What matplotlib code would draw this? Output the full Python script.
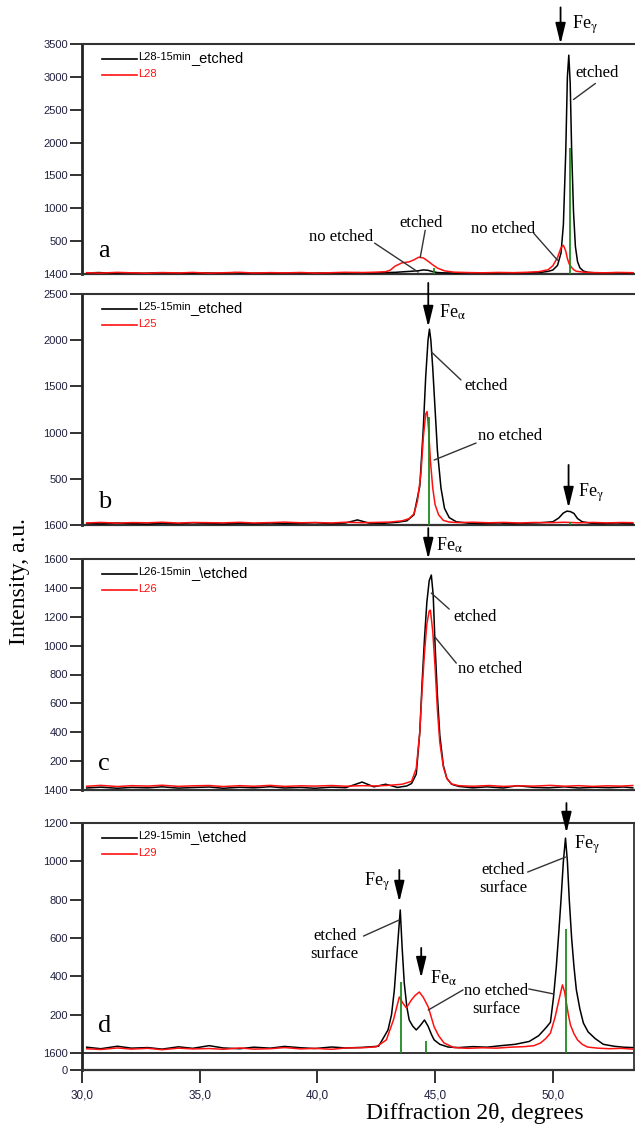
import matplotlib
matplotlib.use("Agg")
import matplotlib.pyplot as plt

plt.rcParams["mathtext.fontset"] = "stix"

SERIF = "Liberation Serif"
SANS = "Liberation Sans"
TICK_COLOR = "#202040"
RED = "#ff1010"
GREEN = "#1f8a1f"

# ---------------- data (2theta, intensity a.u.) ----------------
# panel a : L28
a_x_etch = [30.2, 30.7, 31.3, 31.9, 32.6, 33.2, 33.9, 34.5, 35.2, 35.8, 36.5, 37.1, 37.8, 38.4, 39.1,
            39.7, 40.4, 41.0, 41.7, 42.3, 42.9, 43.3, 43.7, 44.0, 44.3, 44.5, 44.7, 44.9, 45.1, 45.4,
            45.9, 46.5, 47.1, 47.8, 48.4, 49.0, 49.5, 49.8, 50.0, 50.2, 50.35, 50.45, 50.55, 50.62,
            50.68, 50.74, 50.8, 50.88, 50.96, 51.05, 51.15, 51.3, 51.5, 51.8, 52.2, 52.7, 53.1, 53.4]
a_y_etch = [15, 22, 12, 18, 10, 20, 14, 9, 17, 12, 21, 11, 16, 13, 19, 12, 18, 14, 20, 16, 22, 25, 35,
            42, 50, 62, 56, 36, 22, 17, 14, 19, 12, 18, 15, 20, 25, 40, 60, 130, 320, 750, 1850, 3000,
            3330, 2900, 1900, 950, 420, 190, 95, 45, 25, 18, 15, 20, 13, 16]
a_x_raw = [30.2, 30.8, 31.5, 32.1, 32.8, 33.4, 34.1, 34.7, 35.4, 36.0, 36.7, 37.3, 38.0, 38.6, 39.3,
           39.9, 40.6, 41.2, 41.9, 42.5, 42.9, 43.1, 43.3, 43.6, 43.9, 44.1, 44.3, 44.5, 44.7, 44.9,
           45.1, 45.4, 45.8, 46.4, 47.0, 47.7, 48.3, 48.9, 49.4, 49.8, 50.0, 50.2, 50.35, 50.45, 50.55,
           50.62, 50.7, 50.8, 50.9, 51.0, 51.3, 51.7, 52.2, 52.8, 53.4]
a_y_raw = [20, 14, 25, 18, 12, 22, 16, 24, 13, 19, 26, 15, 21, 17, 23, 14, 20, 26, 22, 28, 35, 60, 120,
           170, 185, 215, 255, 245, 195, 140, 90, 48, 28, 22, 18, 24, 20, 26, 35, 65, 125, 250, 400,
           437, 350, 235, 150, 100, 62, 42, 28, 22, 18, 24, 20]
a_ref_x = [44.95, 50.75]
a_ref_y = [90, 1920]

# panel b : L25
b_x_etch = [30.2, 30.8, 31.5, 32.1, 32.8, 33.4, 34.1, 34.7, 35.4, 36.0, 36.7, 37.3, 38.0, 38.6, 39.3,
            39.9, 40.6, 41.2, 41.7, 42.2, 42.8, 43.4, 43.8, 44.1, 44.35, 44.5, 44.6, 44.7, 44.76, 44.82,
            44.9, 45.0, 45.1, 45.25, 45.4, 45.6, 45.9, 46.4, 47.0, 47.7, 48.3, 48.9, 49.5, 50.0, 50.25,
            50.45, 50.6, 50.75, 50.9, 51.05, 51.25, 51.6, 52.1, 52.7, 53.4]
b_y_etch = [18, 12, 22, 15, 10, 20, 14, 24, 16, 11, 19, 13, 21, 15, 18, 25, 14, 22, 55, 20, 18, 30, 45,
            110, 420, 1050, 1600, 2000, 2120, 2000, 1700, 1250, 800, 400, 180, 80, 35, 20, 15, 22, 14,
            19, 25, 35, 75, 130, 150, 145, 125, 70, 35, 20, 15, 22, 14]
b_x_raw = [30.2, 30.8, 31.5, 32.1, 32.8, 33.4, 34.1, 34.7, 35.4, 36.0, 36.7, 37.3, 38.0, 38.6, 39.3,
           39.9, 40.6, 41.2, 41.9, 42.5, 43.1, 43.6, 43.9, 44.1, 44.25, 44.4, 44.5, 44.6, 44.66, 44.72,
           44.8, 44.9, 45.0, 45.15, 45.35, 45.6, 46.0, 46.6, 47.3, 47.9, 48.6, 49.2, 49.9, 50.5, 51.1,
           51.7, 52.3, 52.9, 53.4]
b_y_raw = [22, 28, 20, 26, 24, 30, 21, 27, 25, 23, 29, 22, 26, 31, 24, 27, 22, 30, 25, 28, 32, 45, 70,
           120, 260, 560, 950, 1200, 1228, 1050, 700, 400, 220, 110, 50, 32, 26, 30, 24, 28, 22, 27,
           25, 30, 24, 28, 23, 27, 25]
b_ref_x = [44.75, 50.75]
b_ref_y = [1174, 30]

# panel c : L26
c_x_etch = [30.2, 30.8, 31.5, 32.1, 32.8, 33.4, 34.1, 34.7, 35.4, 36.0, 36.7, 37.3, 38.0, 38.6, 39.3,
            39.9, 40.6, 41.2, 41.9, 42.4, 42.9, 43.4, 43.8, 44.0, 44.2, 44.35, 44.45, 44.55, 44.65,
            44.75, 44.84, 44.92, 45.0, 45.1, 45.2, 45.35, 45.5, 45.7, 46.0, 46.6, 47.2, 47.9, 48.5,
            49.2, 49.8, 50.5, 51.1, 51.8, 52.4, 53.0, 53.4]
c_y_etch = [14, 20, 12, 18, 15, 22, 13, 17, 21, 12, 19, 15, 23, 14, 18, 12, 20, 16, 55, 22, 40, 18, 28,
            45, 110, 400, 750, 1050, 1300, 1450, 1489, 1350, 1000, 650, 380, 170, 80, 40, 25, 15, 22,
            14, 30, 18, 15, 22, 14, 19, 16, 21, 15]
c_x_raw = [30.2, 30.8, 31.5, 32.1, 32.8, 33.4, 34.1, 34.7, 35.4, 36.0, 36.7, 37.3, 38.0, 38.6, 39.3,
           39.9, 40.6, 41.2, 41.9, 42.5, 43.1, 43.6, 44.0, 44.2, 44.35, 44.45, 44.55, 44.65, 44.75,
           44.8, 44.9, 45.0, 45.1, 45.2, 45.35, 45.5, 45.7, 46.0, 46.6, 47.3, 47.9, 48.6, 49.2, 49.9,
           50.5, 51.1, 51.7, 52.3, 52.9, 53.4]
c_y_raw = [26, 32, 24, 30, 27, 33, 25, 29, 31, 24, 30, 26, 32, 25, 29, 27, 31, 26, 30, 28, 33, 40, 60,
           150, 400, 700, 950, 1150, 1240, 1246, 1100, 850, 550, 330, 160, 80, 42, 30, 26, 31, 25, 29,
           27, 32, 26, 30, 25, 29, 27, 31]
c_ref_x = []
c_ref_y = []

# panel d : L29
d_x_etch = [30.2, 30.8, 31.5, 32.1, 32.8, 33.4, 34.1, 34.7, 35.4, 36.0, 36.7, 37.3, 38.0, 38.6, 39.3,
            39.9, 40.6, 41.2, 41.9, 42.6, 43.0, 43.15, 43.27, 43.4, 43.52, 43.6, 43.69, 43.8, 43.9,
            44.05, 44.2, 44.35, 44.55, 44.7, 44.85, 44.96, 45.2, 45.55, 46.0, 46.6, 47.2, 47.8, 48.4,
            49.0, 49.4, 49.7, 49.9, 50.03, 50.15, 50.25, 50.35, 50.45, 50.54, 50.62, 50.7, 50.8, 50.9,
            51.0, 51.15, 51.3, 51.5, 51.8, 52.15, 52.6, 53.0, 53.4]
d_y_etch = [30, 22, 35, 25, 28, 20, 32, 24, 38, 26, 22, 30, 25, 34, 27, 23, 31, 26, 29, 35, 120, 200,
            330, 550, 746, 550, 365, 240, 172, 140, 120, 140, 172, 140, 95, 68, 45, 31, 28, 33, 30, 38,
            45, 60, 90, 130, 160, 290, 450, 620, 800, 1000, 1121, 1000, 800, 600, 450, 330, 230, 156,
            110, 75, 45, 35, 30, 28]
d_x_raw = [30.2, 30.8, 31.5, 32.1, 32.8, 33.4, 34.1, 34.7, 35.4, 36.0, 36.7, 37.3, 38.0, 38.6, 39.3,
           39.9, 40.6, 41.2, 41.9, 42.5, 42.93, 43.23, 43.48, 43.63, 43.78, 43.99, 44.15, 44.33, 44.5,
           44.71, 44.96, 45.15, 45.38, 45.8, 46.4, 47.0, 47.6, 48.2, 48.8, 49.2, 49.48, 49.7, 49.9,
           50.1, 50.25, 50.33, 50.41, 50.5, 50.58, 50.66, 50.75, 50.9, 51.05, 51.25, 51.47, 51.9, 52.4,
           52.9, 53.4]
d_y_raw = [22, 18, 26, 20, 24, 17, 25, 21, 23, 19, 26, 20, 22, 28, 21, 24, 19, 26, 27, 32, 68, 172,
           292, 260, 235, 276, 300, 318, 290, 240, 136, 90, 52, 28, 24, 27, 25, 30, 33, 38, 52, 75,
           104, 188, 270, 313, 355, 320, 260, 200, 146, 100, 68, 45, 31, 25, 22, 24, 20]
d_ref_x = [43.57, 44.63, 50.54]
d_ref_y = [370, 63, 647]

# y tick positions and the labels printed in the scanned figure
a_ticks = [0, 500, 1000, 1500, 2000, 2500, 3000, 3500]
a_ticklabels = ["1400", "500", "1000", "1500", "2000", "2500", "3000", "3500"]
b_ticks = [0, 500, 1000, 1500, 2000, 2500]
b_ticklabels = ["1600", "500", "1000", "1500", "2000", "2500"]
c_ticks = [0, 200, 400, 600, 800, 1000, 1200, 1400, 1600]
c_ticklabels = ["1400", "200", "400", "600", "800", "1000", "1200", "1400", "1600"]
d_ticks = [-89, 0, 200, 400, 600, 800, 1000, 1200]
d_ticklabels = ["0", "1600", "200", "400", "600", "800", "1000", "1200"]
x_ticks = [30, 35, 40, 45, 50]
x_ticklabels = ["30,0", "35,0", "40,0", "45,0", "50,0"]

sample_names = ["L28", "L25", "L26", "L29"]
legend_sep = ["_", "_", "_\\", "_\\"]
panel_letters = ["a", "b", "c", "d"]

W, H = 635, 1130
fig = plt.figure(figsize=(W / 100, H / 100), dpi=100)

# axes boxes in pixels: (top, bottom)
boxes = [(44, 274), (294, 525), (559, 790), (823, 1070)]
AX_L, AX_R = 82, 634
axes = []
for top, bot in boxes:
    ax = fig.add_axes([AX_L / W, 1 - bot / H, (AX_R - AX_L) / W, (bot - top) / H])
    axes.append(ax)

panels = [
    (a_x_etch, a_y_etch, a_x_raw, a_y_raw, a_ref_x, a_ref_y, (0, 3500), a_ticks, a_ticklabels),
    (b_x_etch, b_y_etch, b_x_raw, b_y_raw, b_ref_x, b_ref_y, (0, 2500), b_ticks, b_ticklabels),
    (c_x_etch, c_y_etch, c_x_raw, c_y_raw, c_ref_x, c_ref_y, (0, 1600), c_ticks, c_ticklabels),
    (d_x_etch, d_y_etch, d_x_raw, d_y_raw, d_ref_x, d_ref_y, (-89, 1200), d_ticks, d_ticklabels),
]

for i, (ax, p) in enumerate(zip(axes, panels)):
    xe, ye, xr, yr, gx, gy, ylim, ticks, labels = p
    ax.plot(xe, ye, color="black", lw=1.1, zorder=3)
    ax.plot(xr, yr, color=RED, lw=1.1, zorder=4)
    if gx:
        ax.vlines(gx, 0, gy, color=GREEN, lw=1.3, zorder=5)
    ax.set_xlim(30.0, 53.45)
    ax.set_ylim(*ylim)
    ax.set_yticks(ticks)
    ax.set_yticklabels(labels, family=SANS, fontsize=8, color=TICK_COLOR)
    ax.tick_params(axis="y", direction="out", length=9, width=1.3, pad=1, color="#222222")
    ax.spines["left"].set_linewidth(2.0)
    ax.spines["left"].set_color("#222222")
    ax.spines["top"].set_linewidth(1.5)
    ax.spines["top"].set_color("#333333")
    ax.spines["bottom"].set_linewidth(1.6)
    ax.spines["bottom"].set_color("#333333")
    if i < 3:
        ax.spines["right"].set_visible(False)
        ax.tick_params(axis="x", bottom=False, labelbottom=False)
    else:
        ax.spines["right"].set_linewidth(1.3)
        ax.spines["right"].set_color("#333333")
        ax.axhline(0, color="#333333", lw=1.4, zorder=2)
        ax.set_xticks(x_ticks)
        ax.set_xticklabels(x_ticklabels, family=SANS, fontsize=8.5, color=TICK_COLOR)
        ax.tick_params(axis="x", direction="out", length=9, width=1.3, pad=5, color="#222222")

    # legend block (hand placed, as in the scan)
    top, bot = boxes[i]
    hpx, wpx = bot - top, AX_R - AX_L
    fx = lambda px: (px - AX_L) / wpx
    fy = lambda dy: 1 - dy / hpx
    ax.plot([fx(102), fx(137)], [fy(15), fy(15)], color="black", lw=1.2, transform=ax.transAxes)
    ax.plot([fx(102), fx(137)], [fy(31), fy(31)], color=RED, lw=1.2, transform=ax.transAxes)
    t1 = ax.text(fx(138), fy(16), f"{sample_names[i]}-15min", transform=ax.transAxes, family=SANS,
                 fontsize=8, va="baseline", ha="left")
    ax.annotate(f"{legend_sep[i]}etched", xy=(1, 0), xycoords=t1, xytext=(0, -2),
                textcoords="offset points", family=SANS, fontsize=10.5, va="bottom", ha="left")
    ax.text(fx(138), fy(33), sample_names[i], transform=ax.transAxes, family=SANS,
            fontsize=8, va="baseline", ha="left", color=RED)

    # panel letter
    base = [257, 508, 770, 1032][i]
    fig.text(98 / W, 1 - base / H, panel_letters[i], family=SERIF, fontsize=19, va="baseline")


def arrow(ax, x, y0, y1):
    ax.annotate("", xy=(x, y1), xytext=(x, y0), annotation_clip=False,
                arrowprops=dict(arrowstyle="-|>,head_length=0.9,head_width=0.22",
                                color="black", lw=1.3, mutation_scale=14, shrinkA=0, shrinkB=0),
                zorder=6)


def leader(ax, p0, p1):
    ax.annotate("", xy=p1, xytext=p0, annotation_clip=False,
                arrowprops=dict(arrowstyle="-", color="#333333", lw=1.0, shrinkA=0, shrinkB=0),
                zorder=6)


def label(ax, x, y, s, ha="center", size=12):
    ax.text(x, y, s, family=SERIF, fontsize=size, ha=ha, va="center", clip_on=False,
            linespacing=1.15, zorder=7)


ax_a, ax_b, ax_c, ax_d = axes
FE_G = r"Fe$_{\mathrm{\gamma}}$"
FE_A = r"Fe$_{\mathrm{\alpha}}$"

# panel a
arrow(ax_a, 50.33, 4057, 3500)
label(ax_a, 50.8, 3800, FE_G, ha="left", size=13)
label(ax_a, 50.96, 3062, "etched", ha="left")
leader(ax_a, (51.81, 2900), (50.88, 2655))
label(ax_a, 47.88, 680, "no etched")
leader(ax_a, (49.19, 620), (50.2, 210))
label(ax_a, 44.41, 770, "etched")
leader(ax_a, (44.58, 665), (44.37, 255))
label(ax_a, 41.0, 560, "no etched")
leader(ax_a, (42.43, 470), (44.28, 30))

# panel b
arrow(ax_b, 44.71, 2620, 2143)
label(ax_b, 45.17, 2305, FE_A, ha="left", size=13)
label(ax_b, 46.23, 1504, "etched", ha="left")
leader(ax_b, (46.1, 1570), (44.84, 1873))
label(ax_b, 46.82, 963, "no etched", ha="left")
leader(ax_b, (46.74, 887), (44.96, 703))
arrow(ax_b, 50.67, 650, 184)
label(ax_b, 51.09, 346, FE_G, ha="left", size=13)

# panel c
arrow(ax_c, 44.71, 1814, 1600)
label(ax_c, 45.05, 1697, FE_A, ha="left", size=13)
label(ax_c, 45.77, 1198, "etched", ha="left")
leader(ax_c, (45.6, 1253), (44.84, 1364))
label(ax_c, 45.97, 838, "no etched", ha="left")
leader(ax_c, (45.9, 879), (44.96, 1066))

# panel d
arrow(ax_d, 50.58, 1304, 1148)
label(ax_d, 50.92, 1085, FE_G, ha="left", size=13)
label(ax_d, 47.88, 908, "etched\nsurface")
leader(ax_d, (48.93, 944), (50.54, 1022))
arrow(ax_d, 43.48, 955, 788)
label(ax_d, 42.0, 892, FE_G, ha="left", size=13)
label(ax_d, 40.73, 563, "etched\nsurface")
leader(ax_d, (41.96, 610), (43.48, 694))
arrow(ax_d, 44.41, 548, 391)
label(ax_d, 44.8, 391, FE_A, ha="left", size=13)
label(ax_d, 47.58, 277, "no etched\nsurface")
leader(ax_d, (46.19, 329), (44.71, 224))
leader(ax_d, (48.98, 334), (50.03, 308))

fig.text(20 / W, 1 - 582 / H, "Intensity, a.u.", family=SERIF, fontsize=17, rotation=90,
         ha="center", va="center")
fig.text(475 / W, 1 - 1113 / H, "Diffraction 2\u03b8, degrees", family=SERIF, fontsize=17,
         ha="center", va="center")

fig.savefig("out.png", dpi=100)
